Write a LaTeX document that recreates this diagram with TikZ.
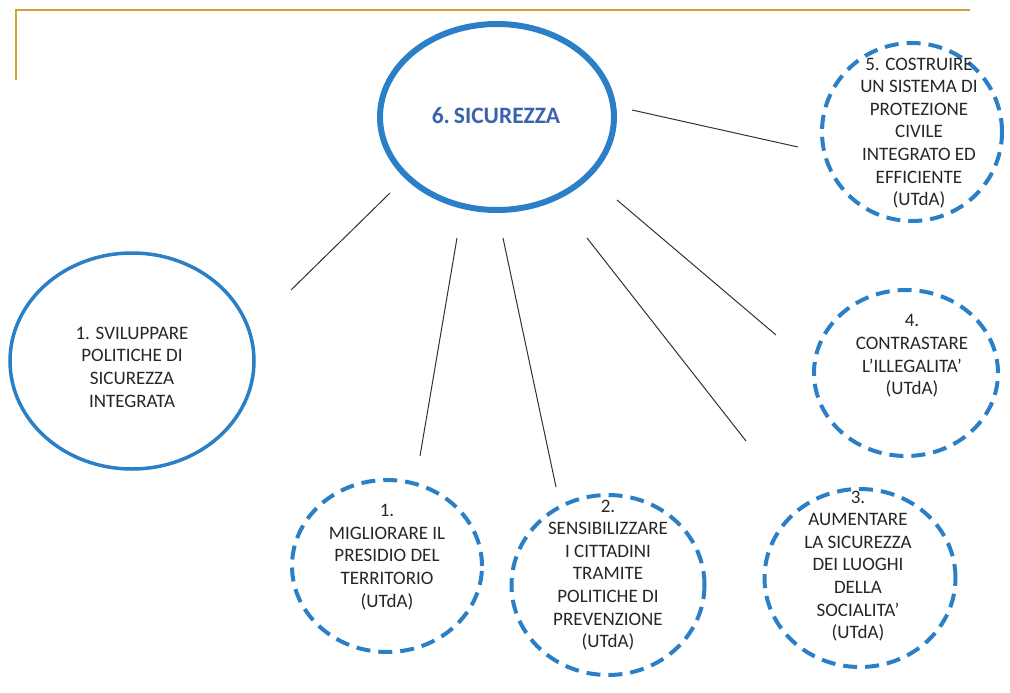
\documentclass[tikz,border=0pt]{standalone}
\usepackage{fontspec}
\setmainfont{Carlito}
\usetikzlibrary{shapes.geometric}
\definecolor{cblue}{RGB}{42,127,198}
\definecolor{tblue}{RGB}{59,99,173}
\definecolor{gold}{RGB}{212,161,52}
\definecolor{txtgray}{RGB}{38,38,38}
\definecolor{linegray}{RGB}{50,50,50}
\tikzset{
  solidcirc/.style={ellipse, draw=cblue, line width=3.5pt, inner sep=0pt},
  dashcirc/.style={ellipse, draw=cblue, line width=4pt, inner sep=0pt, dash pattern=on 14pt off 8pt},
  txt/.style={align=center, text=txtgray, inner sep=0pt, font=\fontsize{19}{22.6}\selectfont},
  conn/.style={draw=linegray, line width=1pt},
}
\begin{document}
\begin{tikzpicture}[x=1pt, y=-1pt]
\useasboundingbox (0,0) rectangle (1010,693);
% gold frame
\draw[gold, line width=2pt] (970,10) -- (16,10) -- (16,80);
% central
\node[ellipse, draw=cblue, line width=6pt, inner sep=0pt, minimum width=234pt, minimum height=186pt] (c6) at (497,117) {};
\node[text=tblue, font=\fontsize{23.5}{28}\selectfont\bfseries, inner sep=0pt] (t6) at (496,116) {6.\,SICUREZZA};
% circle 1 solid
\node[solidcirc, minimum width=244pt, minimum height=216pt] (c1) at (132,361) {};
\node[txt] (t1) at (132,367) {1. SVILUPPARE\\POLITICHE DI\\SICUREZZA\\INTEGRATA};
% circle 1b
\node[dashcirc, minimum width=190pt, minimum height=172pt] (c1b) at (387,566) {};
\node[txt] (t1b) at (387,557) {1.\\MIGLIORARE IL\\PRESIDIO DEL\\TERRITORIO\\(UTdA)};
% circle 2
\node[dashcirc, minimum width=193pt, minimum height=180pt] (c2) at (608,585) {};
\node[txt] (t2) at (608,575) {2.\\SENSIBILIZZARE\\I CITTADINI\\TRAMITE\\POLITICHE DI\\PREVENZIONE\\(UTdA)};
% circle 3
\node[dashcirc, minimum width=191pt, minimum height=178pt] (c3) at (860,578) {};
\node[txt] (t3) at (858,566) {3.\\AUMENTARE\\LA SICUREZZA\\DEI LUOGHI\\DELLA\\SOCIALITA'\\(UTdA)};
% circle 4
\node[dashcirc, minimum width=184pt, minimum height=166pt] (c4) at (906,373) {};
\node[txt] (t4) at (912,356) {4.\\CONTRASTARE\\L'ILLEGALITA'\\(UTdA)};
% circle 5
\node[dashcirc, minimum width=180pt, minimum height=178pt] (c5) at (912,132) {};
\node[txt] (t5) at (919,133) {5. COSTRUIRE\\UN SISTEMA DI\\PROTEZIONE\\CIVILE\\INTEGRATO ED\\EFFICIENTE\\(UTdA)};
% connector end points
\coordinate (a1) at (390,193); \coordinate (b1) at (291,290);
\coordinate (a2) at (457,238); \coordinate (b2) at (420,456);
\coordinate (a3) at (503,238); \coordinate (b3) at (556,487);
\coordinate (a4) at (587,238); \coordinate (b4) at (746,441);
\coordinate (a5) at (617,200); \coordinate (b5) at (776,335);
\coordinate (a6) at (632,110); \coordinate (b6) at (798,147);
\draw[conn] (a1) -- (b1);
\draw[conn] (a2) -- (b2);
\draw[conn] (a3) -- (b3);
\draw[conn] (a4) -- (b4);
\draw[conn] (a5) -- (b5);
\draw[conn] (a6) -- (b6);
\end{tikzpicture}
\end{document}
